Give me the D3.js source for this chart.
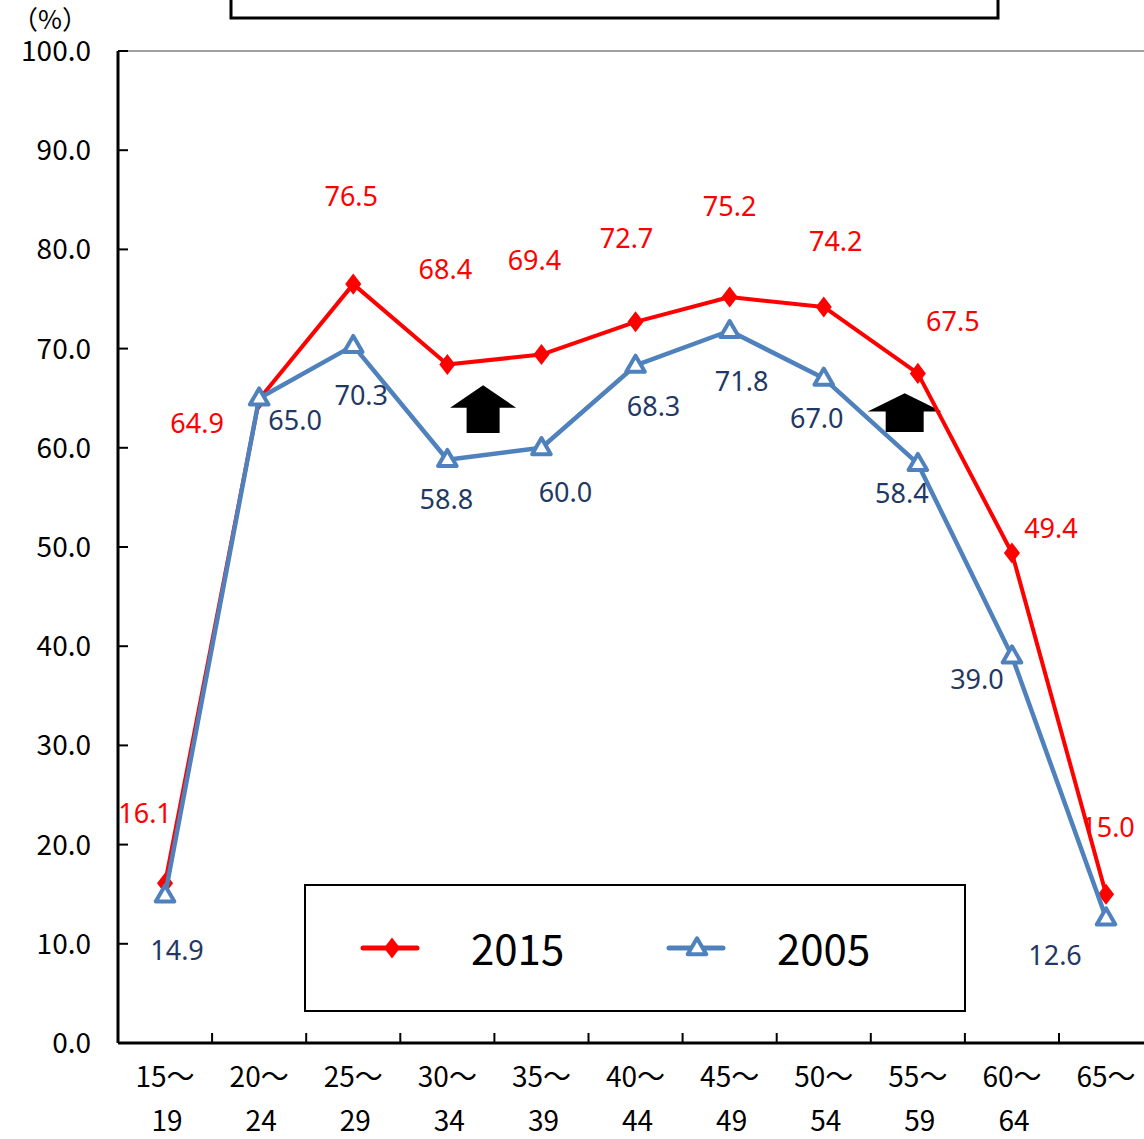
<!DOCTYPE html>
<html>
<head>
<meta charset="utf-8">
<script src="https://cdn.jsdelivr.net/npm/d3@7"></script>
<style>
  body { margin: 0; background: #fff; }
  svg { display: block; }
  .tick-label { font-family: "Noto Sans CJK JP", "Noto Sans", sans-serif; font-size: 28px; fill: #000; }
  .data-label { font-family: "Noto Sans", "Open Sans", sans-serif; font-size: 27px; }
</style>
</head>
<body>
<div id="canvas"></div>
<script>
// age groups, two lines per label
var ageTop = ['15～','20～','25～','30～','35～','40～','45～','50～','55～','60～','65～'];
var ageBottom = ['19','24','29','34','39','44','49','54','59','64',''];

var years = ['2015', '2005'];
var rate2015 = [16.1, 64.9, 76.5, 68.4, 69.4, 72.7, 75.2, 74.2, 67.5, 49.4, 15.0];
var rate2005 = [14.9, 65.0, 70.3, 58.8, 60.0, 68.3, 71.8, 67.0, 58.4, 39.0, 12.6];

var yTicks = [0, 10, 20, 30, 40, 50, 60, 70, 80, 90, 100];

// label offsets (px) from the point, as placed in the original
var off2015 = [[-20,-70],[-62,24],[-2,-88],[-2,-95],[-7,-94],[-9,-84],[0,-91],[12,-66],[35,-52],[39,-25],[2,-67]];
var off2005 = [[12,55],[36,22],[8,50],[-1,40],[24,44],[18,41],[12,51],[-7,40],[-16,30],[-35,23],[-51,37]];

var W = 1144, H = 1139;
var m = {t:51, l:118, b:1043};

var svg = d3.select('#canvas').append('svg')
    .attr('width', W).attr('height', H);

var x = d3.scaleBand().domain(d3.range(ageTop.length))
    .range([m.l, m.l + 94.1*ageTop.length]);
var y = d3.scaleLinear().domain([0, 100]).range([m.b, m.t]);
var xc = function(i){ return x(i) + x.bandwidth()/2; };

// title box (mostly off the top)
svg.append('rect')
    .attr('x', 231).attr('y', -60).attr('width', 767).attr('height', 78)
    .style('fill','none').style('stroke','#000').style('stroke-width',3);

// top border of plot area
svg.append('line')
    .attr('x1', m.l).attr('x2', W).attr('y1', y(100)).attr('y2', y(100))
    .style('stroke','#a0a0a0').style('stroke-width',2);

// y axis
svg.append('line')
    .attr('x1', m.l).attr('x2', m.l).attr('y1', y(100)).attr('y2', y(0))
    .style('stroke','#000').style('stroke-width',3);
svg.selectAll('.ytick').data(yTicks).enter().append('line')
    .attr('x1', m.l).attr('x2', m.l + 10)
    .attr('y1', function(d){return y(d)}).attr('y2', function(d){return y(d)})
    .style('stroke','#000').style('stroke-width',2);
svg.selectAll('.ylab').data(yTicks).enter().append('text')
    .attr('class','tick-label')
    .attr('x', 91).attr('y', function(d){return y(d)})
    .attr('dy','0.36em').attr('text-anchor','end')
    .text(function(d){return d3.format('.1f')(d)});

svg.append('text').attr('class','tick-label')
    .attr('x', 50).attr('y', 29).attr('text-anchor','middle')
    .style('font-size','26px')
    .text('（%）');

// x axis
svg.append('line')
    .attr('x1', m.l).attr('x2', W).attr('y1', y(0)).attr('y2', y(0))
    .style('stroke','#000').style('stroke-width',3);
svg.selectAll('.xtick').data(d3.range(1, ageTop.length)).enter().append('line')
    .attr('x1', function(i){return x(i)}).attr('x2', function(i){return x(i)})
    .attr('y1', y(0)).attr('y2', y(0) - 10)
    .style('stroke','#000').style('stroke-width',2);
var xl = svg.selectAll('.xlab').data(d3.range(ageTop.length)).enter().append('text')
    .attr('class','tick-label').attr('text-anchor','middle');
xl.append('tspan').attr('x', xc).attr('y', 1087).text(function(i){return ageTop[i]});
xl.append('tspan').attr('x', function(i){return xc(i)+2}).attr('y', 1131).text(function(i){return ageBottom[i]});

// arrows
var arrows = [{i:3.38, top:66.3, bot:61.5, hw:33, sw:16.5}, {i:7.86, top:65.5, bot:61.6, hw:37, sw:19}];
svg.selectAll('.arrow').data(arrows).enter().append('path')
    .attr('d', function(a){
        var cx = x(0) + x.bandwidth()*(a.i + 0.5), t = y(a.top), b = y(a.bot), wy = t + (b - t)*0.47;
        return 'M'+cx+','+t+'L'+(cx+a.hw)+','+wy+'L'+(cx+a.sw)+','+wy+'L'+(cx+a.sw)+','+b+
            'L'+(cx-a.sw)+','+b+'L'+(cx-a.sw)+','+wy+'L'+(cx-a.hw)+','+wy+'Z';
    })
    .style('fill','#000');

var line = d3.line().x(function(d,i){return xc(i)}).y(function(d){return y(d)});

// 2015
svg.append('path').datum(rate2015).attr('d', line)
    .style('fill','none').style('stroke','#ff0000').style('stroke-width',4).style('stroke-linejoin','round');
var diamond = d3.symbol().type(d3.symbolDiamond).size(170);
svg.selectAll('.p15').data(rate2015).enter().append('path')
    .attr('transform', function(d,i){return 'translate('+xc(i)+','+y(d)+') scale(1.15,0.87)'})
    .attr('d', diamond).style('fill','#ff0000');

// 2005
svg.append('path').datum(rate2005).attr('d', line)
    .style('fill','none').style('stroke','#4f81bd').style('stroke-width',4.5).style('stroke-linejoin','round');
var tri = d3.symbol().type(d3.symbolTriangle).size(150);
svg.selectAll('.p05').data(rate2005).enter().append('path')
    .attr('transform', function(d,i){return 'translate('+xc(i)+','+(y(d)+1)+')'})
    .attr('d', tri).style('fill','#fff').style('stroke','#4f81bd').style('stroke-width',4).style('stroke-linejoin','round');

// data labels
svg.selectAll('.l15').data(rate2015).enter().append('text')
    .attr('class','data-label').attr('text-anchor','middle').attr('dy','0.36em')
    .attr('x', function(d,i){return xc(i) + off2015[i][0]})
    .attr('y', function(d,i){return y(d) + off2015[i][1]})
    .style('fill','#ff0000')
    .text(function(d){return d.toFixed(1)});
svg.selectAll('.l05').data(rate2005).enter().append('text')
    .attr('class','data-label').attr('text-anchor','middle').attr('dy','0.36em')
    .attr('x', function(d,i){return xc(i) + off2005[i][0]})
    .attr('y', function(d,i){return y(d) + off2005[i][1]})
    .style('fill','#1f3864')
    .text(function(d){return d.toFixed(1)});

// legend
var lg = svg.append('g').attr('transform','translate(305,885)');
lg.append('rect').attr('x',0).attr('y',0).attr('width',660).attr('height',126)
    .style('fill','#fff').style('stroke','#000').style('stroke-width',2);
var colors = {'2015':'#ff0000', '2005':'#4f81bd'};
var items = lg.selectAll('.item').data(years).enter().append('g')
    .attr('transform', function(d,i){return 'translate('+(58 + i*306)+',63)'});
items.append('line').attr('x1',0).attr('x2',54).attr('y1',0).attr('y2',0)
    .style('stroke', function(d){return colors[d]}).style('stroke-width',5).style('stroke-linecap','round');
items.filter(function(d){return d==='2015'}).append('path')
    .attr('transform','translate(29,0) scale(1.15,0.87)').attr('d', diamond).style('fill','#ff0000');
items.filter(function(d){return d==='2005'}).append('path')
    .attr('transform','translate(28,1)').attr('d', tri)
    .style('fill','#fff').style('stroke','#4f81bd').style('stroke-width',4).style('stroke-linejoin','round');
items.append('text').attr('x', 108).attr('y', 2).attr('dy','0.36em')
    .style('font-family','"Noto Sans CJK JP", sans-serif').style('font-size','42px')
    .text(function(d){return d});
</script>
</body>
</html>
